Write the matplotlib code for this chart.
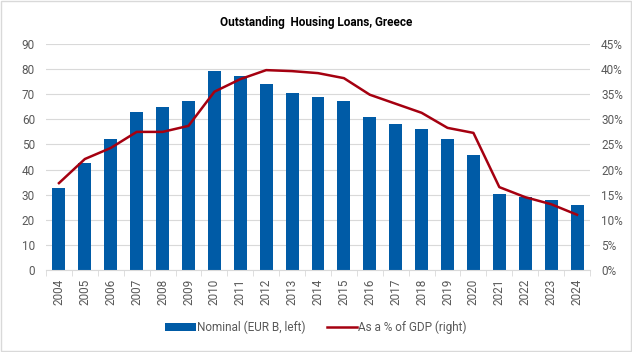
import matplotlib.pyplot as plt
import numpy as np

plt.rcParams['font.family'] = ['Roboto', 'DejaVu Sans']

years = [str(y) for y in range(2004, 2025)]
nominal = [32.8, 42.8, 52.2, 63.0, 65.0, 67.3, 79.3, 77.3, 74.1, 70.5, 68.9,
           67.3, 61.0, 58.2, 56.2, 52.2, 45.8, 30.3, 29.1, 27.9, 25.9]
pct_gdp = [17.3, 22.1, 24.3, 27.5, 27.5, 28.7, 35.5, 38.0, 39.8, 39.6, 39.2,
           38.2, 34.9, 33.1, 31.3, 28.3, 27.3, 16.5, 14.5, 13.1, 11.0]

bar_color = '#005BA6'
line_color = '#A50010'
text_color = '#595959'
grid_color = '#D9D9D9'

fig = plt.figure(figsize=(6.32, 3.52), dpi=100)
ax = fig.add_axes([46 / 632, 1 - 270 / 352, (590 - 46) / 632, (270 - 44) / 352])
ax2 = ax.twinx()

x = np.arange(len(years))
bars = ax.bar(x, nominal, width=0.5, color=bar_color, zorder=2,
              label='Nominal (EUR B, left)')
line, = ax2.plot(x, pct_gdp, color=line_color, lw=1.8, zorder=3,
                 label='As a % of GDP (right)')

ax.set_xlim(-0.5, len(years) - 0.5)
ax.set_ylim(0, 90)
ax.set_yticks(range(0, 91, 10))
ax2.set_ylim(0, 45)
ax2.set_yticks(range(0, 46, 5))
ax2.set_yticklabels([f'{v}%' for v in range(0, 46, 5)])

ax.yaxis.grid(True, color=grid_color, lw=0.8, zorder=0)
ax.set_axisbelow(True)

for a in (ax, ax2):
    for s in a.spines.values():
        s.set_visible(False)
    a.tick_params(axis='y', length=0, labelsize=8.5, labelcolor=text_color, pad=8)
ax.spines['bottom'].set_visible(True)
ax.spines['bottom'].set_color(grid_color)

ax.set_xticks(x)
ax.set_xticklabels(years, rotation=90, fontsize=8.5, color=text_color)
ax.tick_params(axis='x', which='major', length=0, pad=6)
ax.set_xticks(np.arange(-0.5, len(years), 1), minor=True)
ax.tick_params(axis='x', which='minor', length=4, color=grid_color)

fig.suptitle('Outstanding  Housing Loans, Greece', y=0.955, fontsize=8.5,
             fontweight='bold', color='#000000')

fig.legend([bars, line], ['Nominal (EUR B, left)', 'As a % of GDP (right)'],
           loc='center', bbox_to_anchor=(0.5, 0.07), ncol=2, frameon=False,
           fontsize=8.5, labelcolor=text_color, handlelength=2.6,
           handletextpad=0.1, columnspacing=1.8)

fig.patches.append(plt.Rectangle((0.002, 0.003), 0.996, 0.994, transform=fig.transFigure,
                                 fill=False, edgecolor='#D9D9D9', lw=1))

fig.savefig('out.png', dpi=100)
